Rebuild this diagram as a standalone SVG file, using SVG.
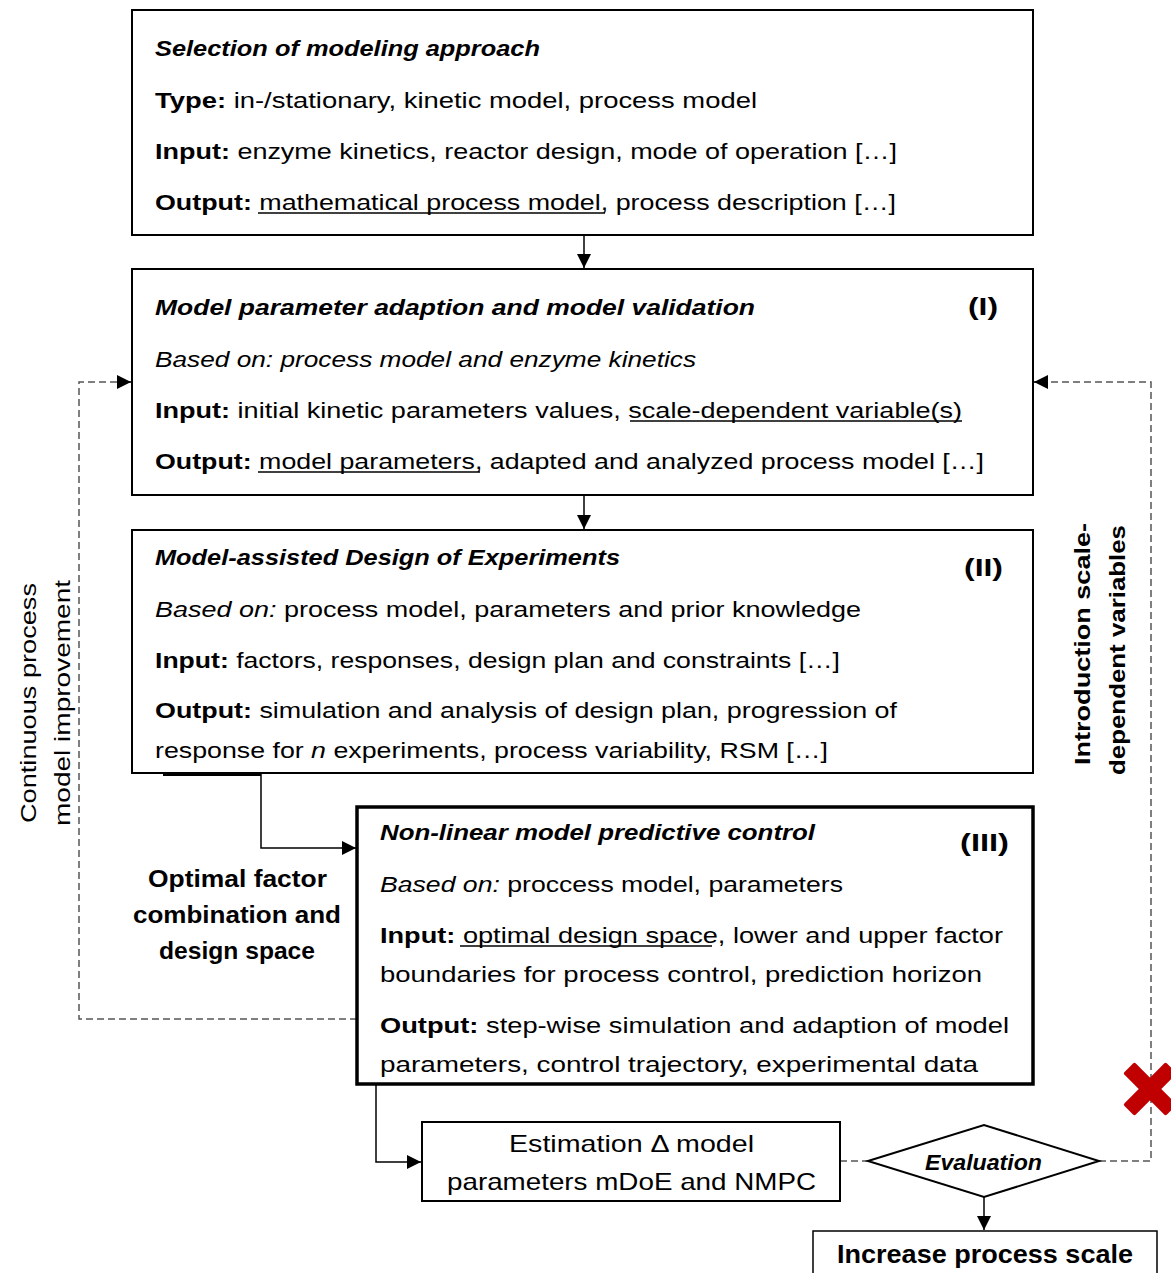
<svg xmlns="http://www.w3.org/2000/svg" width="1171" height="1273" viewBox="0 0 1171 1273">
<defs>
<style>
text{font-family:"Liberation Sans",Arial,sans-serif;font-size:22px;fill:#000}
.b{font-weight:bold}
.i{font-style:italic}
.bi{font-weight:bold;font-style:italic}
.big{font-size:24px}
.box{fill:#fff;stroke:#000;stroke-width:2}
.thick{fill:#fff;stroke:#000;stroke-width:3.5}
.conn{fill:none;stroke:#000;stroke-width:1.5}
.dash{fill:none;stroke:#555;stroke-width:1.5;stroke-dasharray:7,4}
.ul{stroke:#000;stroke-width:1.5}
</style>
<marker id="ahl" viewBox="0 0 10 10" refX="10" refY="5" markerWidth="16" markerHeight="14" markerUnits="userSpaceOnUse" orient="auto"><path d="M0,0 L10,5 L0,10 z" fill="#000"/></marker>
</defs>
<rect width="1171" height="1273" fill="#fff"/>

<g id="connectors">
<line class="conn" x1="584" y1="235" x2="584" y2="268" marker-end="url(#ahl)"/>
<line class="conn" x1="584" y1="495" x2="584" y2="529" marker-end="url(#ahl)"/>
<line x1="163" y1="775" x2="261" y2="775" stroke="#000" stroke-width="2"/>
<polyline class="conn" points="261,774 261,848 356,848" marker-end="url(#ahl)"/>
<polyline class="conn" points="376,1084 376,1162 421,1162" marker-end="url(#ahl)"/>
<line class="dash" x1="840" y1="1161" x2="868" y2="1161"/>
<line class="conn" x1="984" y1="1197" x2="984" y2="1230" marker-end="url(#ahl)"/>
<polyline class="dash" points="357,1019 79,1019 79,382 120,382"/>
<line class="conn" x1="118" y1="382" x2="131" y2="382" marker-end="url(#ahl)" stroke-width="0"/>
<polyline class="dash" points="1099,1161 1151,1161 1151,382 1046,382"/>
<line class="conn" x1="1048" y1="382" x2="1034" y2="382" marker-end="url(#ahl)" stroke-width="0"/>
<g id="cross" fill="#C00000">
<rect x="1120" y="1081" width="60" height="16" rx="2" transform="rotate(45 1150 1089)"/>
<rect x="1120" y="1081" width="60" height="16" rx="2" transform="rotate(-45 1150 1089)"/>
</g>
</g>

<g id="n1">
<rect class="box" x="132" y="10" width="901" height="225"/>
<text x="155" y="56" class="bi" textLength="385" lengthAdjust="spacingAndGlyphs">Selection of modeling approach</text>
<text x="155" y="108" textLength="602" lengthAdjust="spacingAndGlyphs"><tspan class="b">Type:</tspan> in-/stationary, kinetic model, process model</text>
<text x="155" y="159" textLength="742" lengthAdjust="spacingAndGlyphs"><tspan class="b">Input:</tspan> enzyme kinetics, reactor design, mode of operation […]</text>
<text x="155" y="210" textLength="741" lengthAdjust="spacingAndGlyphs"><tspan class="b">Output:</tspan> mathematical process model, process description […]</text>
<line class="ul" x1="258" y1="213" x2="605" y2="213"/>
</g>

<g id="n2">
<rect class="box" x="132" y="269" width="901" height="226"/>
<text x="155" y="315" class="bi" textLength="600" lengthAdjust="spacingAndGlyphs">Model parameter adaption and model validation</text>
<text x="968" y="315" class="b big" textLength="30" lengthAdjust="spacingAndGlyphs">(I)</text>
<text x="155" y="367" class="i" textLength="541" lengthAdjust="spacingAndGlyphs">Based on: process model and enzyme kinetics</text>
<text x="155" y="418" textLength="807" lengthAdjust="spacingAndGlyphs"><tspan class="b">Input:</tspan> initial kinetic parameters values, scale-dependent variable(s)</text>
<line class="ul" x1="630" y1="421" x2="962" y2="421"/>
<text x="155" y="469" textLength="829" lengthAdjust="spacingAndGlyphs"><tspan class="b">Output:</tspan> model parameters, adapted and analyzed process model […]</text>
<line class="ul" x1="258" y1="472" x2="480" y2="472"/>
</g>

<g id="n3">
<rect class="box" x="132" y="530" width="901" height="243"/>
<text x="155" y="565" class="bi" textLength="465" lengthAdjust="spacingAndGlyphs">Model-assisted Design of Experiments</text>
<text x="964" y="576" class="b big" textLength="39" lengthAdjust="spacingAndGlyphs">(II)</text>
<text x="155" y="617" textLength="706" lengthAdjust="spacingAndGlyphs"><tspan class="i">Based on:</tspan> process model, parameters and prior knowledge</text>
<text x="155" y="668" textLength="685" lengthAdjust="spacingAndGlyphs"><tspan class="b">Input:</tspan> factors, responses, design plan and constraints […]</text>
<text x="155" y="718" textLength="742" lengthAdjust="spacingAndGlyphs"><tspan class="b">Output:</tspan> simulation and analysis of design plan, progression of</text>
<text x="155" y="758" textLength="673" lengthAdjust="spacingAndGlyphs">response for <tspan class="i">n</tspan> experiments, process variability, RSM […]</text>
</g>

<g id="n4">
<rect class="thick" x="357" y="807" width="676" height="277"/>
<text x="380" y="840" class="bi" textLength="435" lengthAdjust="spacingAndGlyphs">Non-linear model predictive control</text>
<text x="960" y="851" class="b big" textLength="49" lengthAdjust="spacingAndGlyphs">(III)</text>
<text x="380" y="892" textLength="463" lengthAdjust="spacingAndGlyphs"><tspan class="i">Based on:</tspan> proccess model, parameters</text>
<text x="380" y="943" textLength="623" lengthAdjust="spacingAndGlyphs"><tspan class="b">Input:</tspan> optimal design space, lower and upper factor</text>
<line class="ul" x1="460" y1="946" x2="712" y2="946"/>
<text x="380" y="982" textLength="602" lengthAdjust="spacingAndGlyphs">boundaries for process control, prediction horizon</text>
<text x="380" y="1033" textLength="629" lengthAdjust="spacingAndGlyphs"><tspan class="b">Output:</tspan> step-wise simulation and adaption of model</text>
<text x="380" y="1072" textLength="598" lengthAdjust="spacingAndGlyphs">parameters, control trajectory, experimental data</text>
</g>

<g id="n5">
<rect class="box" x="422" y="1122" width="418" height="79"/>
<text x="509" y="1152" class="big" textLength="245" lengthAdjust="spacingAndGlyphs">Estimation Δ model</text>
<text x="447" y="1190" class="big" textLength="369" lengthAdjust="spacingAndGlyphs">parameters mDoE and NMPC</text>
</g>

<g id="n6">
<polygon points="868,1161 984,1125 1099,1161 984,1197" fill="#fff" stroke="#000" stroke-width="2"/>
<text x="925" y="1170" class="bi" textLength="117" lengthAdjust="spacingAndGlyphs">Evaluation</text>
</g>

<g id="n7">
<rect x="813" y="1231" width="344" height="70" fill="#fff" stroke="#000" stroke-width="1.5"/>
<text x="837" y="1263" class="b" style="font-size:25px" textLength="296" lengthAdjust="spacingAndGlyphs">Increase process scale</text>
</g>

<g id="labels">
<text x="148" y="887" class="b big" textLength="179" lengthAdjust="spacingAndGlyphs">Optimal factor</text>
<text x="133" y="923" class="b big" textLength="208" lengthAdjust="spacingAndGlyphs">combination and</text>
<text x="159" y="959" class="b big" textLength="156" lengthAdjust="spacingAndGlyphs">design space</text>
<text transform="translate(36 823) rotate(-90)" textLength="240" lengthAdjust="spacingAndGlyphs">Continuous process</text>
<text transform="translate(70 826) rotate(-90)" textLength="246" lengthAdjust="spacingAndGlyphs">model improvement</text>
<text transform="translate(1090 765) rotate(-90)" class="b" textLength="242" lengthAdjust="spacingAndGlyphs">Introduction scale-</text>
<text transform="translate(1125 775) rotate(-90)" class="b" textLength="250" lengthAdjust="spacingAndGlyphs">dependent variables</text>
</g>
</svg>
